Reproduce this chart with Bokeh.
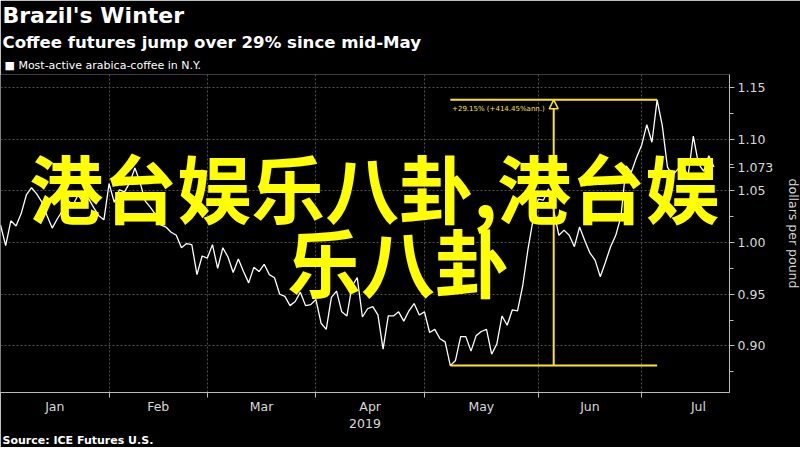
from bokeh.plotting import figure
from bokeh.models import (Range1d, FixedTicker, SingleIntervalTicker,
                          Title, Label, Arrow, NormalHead, ColumnDataSource)
from bokeh.embed import file_html
from bokeh.resources import INLINE

# ---------------- data ----------------
chart_title = "Brazil's Winter"
chart_subtitle = "Coffee futures jump over 29% since mid-May"
series_name = "Most-active arabica-coffee in N.Y."
source_note = "Source: ICE Futures U.S."
overlay_line1 = "港台娱乐八卦,港台娱"
overlay_line2 = "乐八卦"

month_names = ["Jan", "Feb", "Mar", "Apr", "May", "Jun", "Jul"]
month_start_day = [0, 21, 40, 61, 82, 104, 124, 146]   # trading-day index of 1st day of each month
year_label = "2019"
y_axis_title = "dollars per pound"
y_tick_values = [0.90, 0.95, 1.00, 1.05, 1.10, 1.15]
y_tick_labels = ["0.90", "0.95", "1.00", "1.05", "1.10", "1.15"]
y_minor_values = [0.875, 0.925, 0.975, 1.025, 1.075, 1.125]

price_jan = [1.017, 0.997, 1.021, 1.016, 1.028, 1.046, 1.053, 1.047, 1.039, 1.026, 1.014,
             1.023, 1.031, 1.041, 1.036, 1.046, 1.039, 1.043, 1.034, 1.026, 1.022]
price_feb = [1.057, 1.039, 1.051, 1.049, 1.058, 1.072, 1.058, 1.040, 1.034, 1.027, 1.017,
             1.015, 1.010, 1.007, 0.995, 0.999, 0.998, 0.969, 0.987]
price_mar = [0.985, 0.998, 0.975, 0.995, 0.986, 0.971, 0.984, 0.972, 0.961, 0.976, 0.972,
             0.979, 0.969, 0.966, 0.950, 0.948, 0.939, 0.943, 0.952, 0.939, 0.940]
price_apr = [0.945, 0.922, 0.916, 0.947, 0.953, 0.933, 0.929, 0.958, 0.966, 0.928, 0.936,
             0.938, 0.930, 0.897, 0.929, 0.929, 0.933, 0.924, 0.934, 0.941, 0.930]
price_may = [0.933, 0.913, 0.916, 0.907, 0.904, 0.881, 0.886, 0.909, 0.909, 0.895, 0.910,
             0.914, 0.916, 0.892, 0.902, 0.929, 0.920, 0.935, 0.934, 0.958, 0.993, 1.022]
price_jun = [1.042, 1.041, 1.052, 1.031, 1.007, 1.012, 1.007, 0.996, 1.015, 1.002, 0.990,
             0.983, 0.967, 0.981, 0.996, 1.007, 1.025, 1.074, 1.068, 1.082]
price_jul = [1.094, 1.114, 1.097, 1.138, 1.113, 1.073, 1.065, 1.071, 1.073, 1.065, 1.103,
             1.076, 1.069, 1.084, 1.073]

change_text = "+29.15% (+414.45%ann.)"
last_price_text = "1.073"

# ---------------- build ----------------
prices = price_jan + price_feb + price_mar + price_apr + price_may + price_jun + price_jul
days = list(range(len(prices)))
src = ColumnDataSource(data=dict(day=days, price=prices))
last_v = prices[-1]

YELLOW = "#fbe51c"
BIG_YELLOW = "#ffff00"
AXIS_TXT = "#d9d9d9"
GRID = "#505050"

p = figure(frame_width=729, frame_height=318,
           x_range=Range1d(0, 141), y_range=Range1d(0.855, 1.1625),
           y_axis_location="right", output_backend="svg", toolbar_location=None,
           background_fill_color="black", border_fill_color="black",
           outline_line_color=None, min_border_left=0, min_border_right=0,
           min_border_top=0, min_border_bottom=0)

# line
p.line("day", "price", source=src, line_color="white", line_width=1.3)

# header (legend key first = closest to the plot)
p.add_layout(Title(text="\u25A0 " + series_name, align="left", text_color="white",
                   text_font="DejaVu Sans", text_font_style="normal",
                   text_font_size="11px", offset=4, standoff=5), "above")
p.add_layout(Title(text=chart_subtitle, align="left", text_color="white",
                   text_font="DejaVu Sans", text_font_style="bold",
                   text_font_size="16.6px", offset=2, standoff=6), "above")
p.add_layout(Title(text=chart_title, align="left", text_color="white",
                   text_font="DejaVu Sans", text_font_style="bold",
                   text_font_size="22px", offset=2, standoff=0), "above")

# x axis: month boundaries as minor ticks, month names centred
month_centers = [(month_start_day[i] + month_start_day[i + 1]) / 2 for i in range(len(month_names))]
xax = p.xaxis[0]
xax.ticker = FixedTicker(ticks=month_centers, minor_ticks=month_start_day)
xax.major_label_overrides = {c: m for c, m in zip(month_centers, month_names)}
xax.major_tick_out = 0
xax.major_tick_in = 0
xax.minor_tick_out = 5
xax.minor_tick_in = 0
xax.minor_tick_line_color = "#bbbbbb"
xax.axis_line_color = "#bbbbbb"
xax.major_label_text_color = AXIS_TXT
xax.major_label_text_font = "DejaVu Sans"
xax.major_label_text_font_size = "12.5px"
xax.major_label_standoff = 1
xax.axis_label = year_label
xax.axis_label_text_font_style = "normal"
xax.axis_label_text_color = AXIS_TXT
xax.axis_label_text_font = "DejaVu Sans"
xax.axis_label_text_font_size = "12.5px"
xax.axis_label_standoff = 2

p.add_layout(Title(text=source_note, align="left", text_color="white",
                   text_font="DejaVu Sans", text_font_style="bold",
                   text_font_size="11px", offset=2, standoff=2), "below")

# y axis (major ticks + the last-price tag value)
yax = p.yaxis[0]
yax.ticker = FixedTicker(ticks=y_tick_values + [last_v], minor_ticks=y_minor_values)
overrides = {v: t for v, t in zip(y_tick_values, y_tick_labels)}
overrides[last_v] = last_price_text
yax.major_label_overrides = overrides
yax.axis_line_color = "#bbbbbb"
yax.major_tick_line_color = "#bbbbbb"
yax.minor_tick_line_color = "#bbbbbb"
yax.major_tick_out = 5
yax.major_tick_in = 0
yax.minor_tick_out = 4
yax.minor_tick_in = 0
yax.major_label_text_color = AXIS_TXT
yax.major_label_text_font = "DejaVu Sans"
yax.major_label_text_font_size = "12.5px"
yax.major_label_standoff = 3
yax.axis_label = y_axis_title
yax.axis_label_text_font_style = "normal"
yax.axis_label_text_color = AXIS_TXT
yax.axis_label_text_font = "DejaVu Sans"
yax.axis_label_text_font_size = "12.5px"
yax.axis_label_standoff = 10

# grids
p.ygrid.ticker = FixedTicker(ticks=y_tick_values)
p.ygrid.grid_line_color = GRID
p.ygrid.grid_line_dash = "2 2"
p.xgrid.grid_line_color = None
p.xgrid.minor_grid_line_color = GRID
p.xgrid.minor_grid_line_dash = "2 2"

# low-to-high annotation
low_i = min(range(len(prices)), key=lambda i: prices[i])
high_i = max(range(low_i, len(prices)), key=lambda i: prices[i])
low_v, high_v = prices[low_i], prices[high_i]
mid_i = (low_i + high_i) / 2
p.line([low_i, high_i], [high_v, high_v], line_color=YELLOW, line_width=2)
p.line([low_i, high_i], [low_v, low_v], line_color=YELLOW, line_width=2)
p.add_layout(Arrow(x_start=mid_i, y_start=low_v, x_end=mid_i, y_end=high_v,
                   line_color=YELLOW, line_width=2,
                   end=NormalHead(size=9, fill_color="black", line_color=YELLOW, line_width=1.5)))
p.add_layout(Label(x=mid_i, y=high_v, x_offset=-9, y_offset=-5, text=change_text,
                   text_align="right", text_baseline="top", text_color=YELLOW,
                   text_font="DejaVu Sans", text_font_size="7px"))

# big overlay text
p.add_layout(Label(x=72.3, y=1.0551, text=overlay_line1, text_align="center",
                   text_baseline="middle", text_color=BIG_YELLOW,
                   text_font="Noto Sans CJK SC", text_font_style="bold",
                   text_font_size="74px"))
p.add_layout(Label(x=76.9, y=0.9834, text=overlay_line2, text_align="center",
                   text_baseline="middle", text_color=BIG_YELLOW,
                   text_font="Noto Sans CJK SC", text_font_style="bold",
                   text_font_size="74px"))

open("out.html", "w").write(file_html(p, INLINE))
